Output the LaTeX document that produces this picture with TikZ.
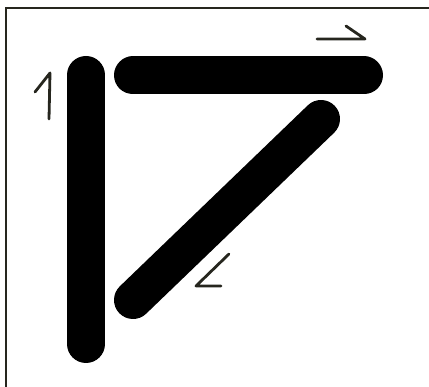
\documentclass[tikz,border=0pt]{standalone}
\definecolor{ink}{RGB}{38,38,30}
\begin{document}
\begin{tikzpicture}[x=1pt,y=-1pt,
  bar/.style={line width=38pt,line cap=round,black},
  pen/.style={line width=2.8pt,line cap=round,line join=round,ink},
  frame/.style={line width=2.4pt,ink}]
\useasboundingbox (0,0) rectangle (429,387);
\coordinate (fl) at (6,387);
\coordinate (ftl) at (6,8);
\coordinate (ftr) at (429,8);
\draw[frame] (fl) -- (ftl) -- (ftr);
% bars
\coordinate (v1) at (86,75);
\coordinate (v2) at (86,344);
\coordinate (h1) at (133,75.5);
\coordinate (h2) at (364,75.5);
\coordinate (d1) at (321,119);
\coordinate (d2) at (133,300);
\draw[bar] (v1) -- (v2);
\draw[bar] (h1) -- (h2);
\draw[bar] (d1) -- (d2);
% hand-drawn marks
\coordinate (o1) at (35,92);
\coordinate (o2) at (50,73);
\coordinate (o3) at (49,119);
\draw[pen] (o1) -- (o2) -- (o3);
\coordinate (a1) at (317,39);
\coordinate (a2) at (365,39);
\coordinate (a3) at (346,26);
\draw[pen] (a1) -- (a2) -- (a3);
\coordinate (b1) at (229,254);
\coordinate (b2) at (196,286);
\coordinate (b3) at (221,286);
\draw[pen] (b1) -- (b2) -- (b3);
\end{tikzpicture}
\end{document}
